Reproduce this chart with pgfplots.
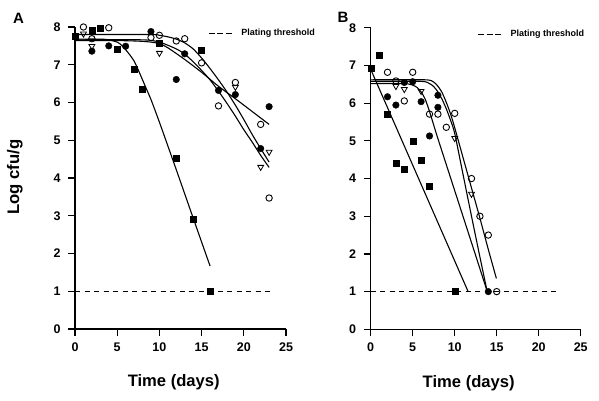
\documentclass[border=0pt]{standalone}
\usepackage{fontspec}
\setmainfont{Liberation Sans}
\usepackage{pgfplots}
\pgfplotsset{compat=1.18}
\pgfplotsset{
 panel/.style={
  scale only axis, width=211pt, height=302pt,
  xmin=0,xmax=25,ymin=0,ymax=8,
  axis x line*=bottom, axis y line*=left,
  axis line style={line width=1.4pt},
  xtick={0,5,...,25}, ytick={0,1,...,8},
  tick align=outside, major tick length=7pt,
  tick style={line width=1.2pt, black},
  /pgf/number format/assume math mode=true,
  xticklabel={\textbf{\pgfmathprintnumber{\tick}}},
  yticklabel={\textbf{\pgfmathprintnumber{\tick}}},
  tick label style={font=\fontsize{12.5}{14}\selectfont\bfseries},
  yticklabel style={xshift=-4pt},
  xticklabel style={yshift=-3pt},
  clip=false,
  legend style={draw=none, fill=none, inner sep=0pt, font=\fontsize{9}{10}\selectfont\bfseries, anchor=west, nodes={inner sep=0pt}},
  legend image code/.code={\draw[##1, dash pattern=on 6pt off 2.5pt] (0pt,0pt) -- (23pt,0pt);},
  xlabel={Time (days)},
  xlabel style={at={(axis description cs:0.468,0)}, anchor=base, yshift=-57.7pt, font=\fontsize{16.6}{18}\selectfont\bfseries},
 },
 curve/.style={black, line width=1.1pt, smooth, tension=0.4, no markers, forget plot},
 sq/.style={only marks, mark=square*, mark size=3pt, black, forget plot},
 fc/.style={only marks, mark=*, mark size=3.3pt, black, forget plot},
 oc/.style={only marks, mark=o, mark size=3.2pt, black, mark options={line width=0.9pt}, forget plot},
 tri/.style={only marks, mark=triangle, mark size=3.4pt, mark options={rotate=180, line width=0.8pt}, black, forget plot},
 thr/.style={black, dash pattern=on 5pt off 4.5pt, line width=1.1pt, no markers},
}
\begin{document}
\begin{tikzpicture}
\path[use as bounding box] (0,0) rectangle (599pt,401pt);
\node[font=\fontsize{15}{16}\selectfont\bfseries] at (18.5pt,383pt) {A};
\node[font=\fontsize{15}{16}\selectfont\bfseries] at (343pt,384pt) {B};
% ---------------- Panel A
\begin{axis}[panel, at={(75pt,72pt)}, anchor=south west,
  ylabel={Log cfu/g},
  ylabel style={at={(axis description cs:-0.2654,0.5025)}, anchor=base, font=\fontsize{16.7}{18}\selectfont\bfseries},
  legend style={at={(axis cs:15.76,7.83)}}]
\addplot[curve] coordinates {(0,7.68)(3,7.68)(4,7.66)(5,7.6)(5.5,7.52)(6,7.4)(6.5,7.26)(7,7.1)(7.5,6.86)(8,6.6)(8.5,6.34)(9,6.08)(10,5.48)(12,4.22)(14,2.94)(16,1.67)};
\addplot[curve] coordinates {(0,7.64)(5,7.64)(7,7.63)(8,7.62)(9,7.6)(10,7.56)(11,7.45)(13,7.14)(15,6.8)(17,6.43)(19,6.1)(21,5.76)(23,5.42)};
\addplot[curve] coordinates {(0,7.8)(9,7.8)(10,7.78)(11,7.74)(12,7.68)(13,7.58)(14,7.42)(15,7.18)(16,6.9)(17,6.6)(18,6.28)(19,5.93)(20,5.55)(21,5.15)(22,4.78)(23,4.42)};
\addplot[curve] coordinates {(0,7.66)(8,7.66)(10,7.6)(12,7.42)(13,7.28)(14,7.08)(15,6.85)(16,6.6)(17,6.3)(18,5.98)(19,5.64)(20,5.28)(21,4.95)(22,4.6)(23,4.28)};
\addplot[sq] coordinates {(0,7.75)(2,7.91)(3,7.98)(5,7.40)(7,6.87)(8,6.36)(10,7.56)(12,4.52)(14,2.91)(15,7.38)(16,1.0)};
\addplot[fc] coordinates {(2,7.36)(4,7.50)(6,7.49)(9,7.88)(12,6.61)(13,7.29)(17,6.32)(19,6.21)(22,4.78)(23,5.89)};
\addplot[oc] coordinates {(1,8.0)(2,7.69)(4,7.98)(9,7.72)(10,7.78)(12,7.63)(13,7.69)(15,7.05)(17,5.91)(19,6.53)(22,5.42)(23,3.47)};
\addplot[tri] coordinates {(1,7.82)(2,7.49)(10,7.31)(19,6.41)(22,4.29)(23,4.69)};
\addplot[thr] coordinates {(0,1)(23.1,1)};
\addlegendentry{\hspace{9pt}Plating threshold}
\end{axis}
% ---------------- Panel B
\begin{axis}[panel, at={(370.7pt,71.7pt)}, anchor=south west, width=210pt, height=301.5pt,
  xlabel style={at={(axis description cs:0.4667,0)}},
  legend style={at={(axis cs:12.7,7.83)}}]
\addplot[curve] coordinates {(0,6.9)(11.6,1.0)};
\addplot[curve] coordinates {(0,6.52)(4,6.52)(5,6.48)(5.5,6.42)(6,6.3)(6.5,6.1)(7,5.78)(7.5,5.42)(8,5.06)(10,3.68)(12,2.3)(13.85,1.02)};
\addplot[curve] coordinates {(0,6.58)(6,6.58)(7,6.52)(7.5,6.44)(8,6.3)(8.5,6.1)(9,5.85)(9.5,5.55)(10,5.2)(11,4.1)(12,3.0)(13,1.92)(13.85,1.02)};
\addplot[curve] coordinates {(0,6.62)(6.5,6.62)(7.5,6.56)(8,6.45)(8.5,6.28)(9,6.02)(9.5,5.72)(10,5.35)(11,4.55)(12,3.75)(13,2.95)(14,2.12)(14.96,1.35)};
\addplot[sq] coordinates {(0,6.92)(1,7.28)(2,5.71)(3,4.40)(4,4.24)(5,4.99)(6,4.49)(7,3.80)(10,1.0)};
\addplot[fc] coordinates {(2,6.17)(3,5.95)(4,6.55)(5,6.57)(6,6.04)(7,5.13)(8,5.89)(8,6.21)(14,1.0)};
\addplot[oc] coordinates {(2,6.82)(3,6.59)(4,6.06)(5,6.82)(7,5.71)(8,5.71)(9,5.36)(10,5.73)(12,4.0)(13,3.0)(14,2.5)(15,1.0)};
\addplot[tri] coordinates {(3,6.45)(4,6.37)(6,6.32)(10,5.07)(12,3.59)};
\addplot[thr] coordinates {(0,1)(22.5,1)};
\addlegendentry{\hspace{9pt}Plating threshold}
\end{axis}
\end{tikzpicture}
\end{document}
